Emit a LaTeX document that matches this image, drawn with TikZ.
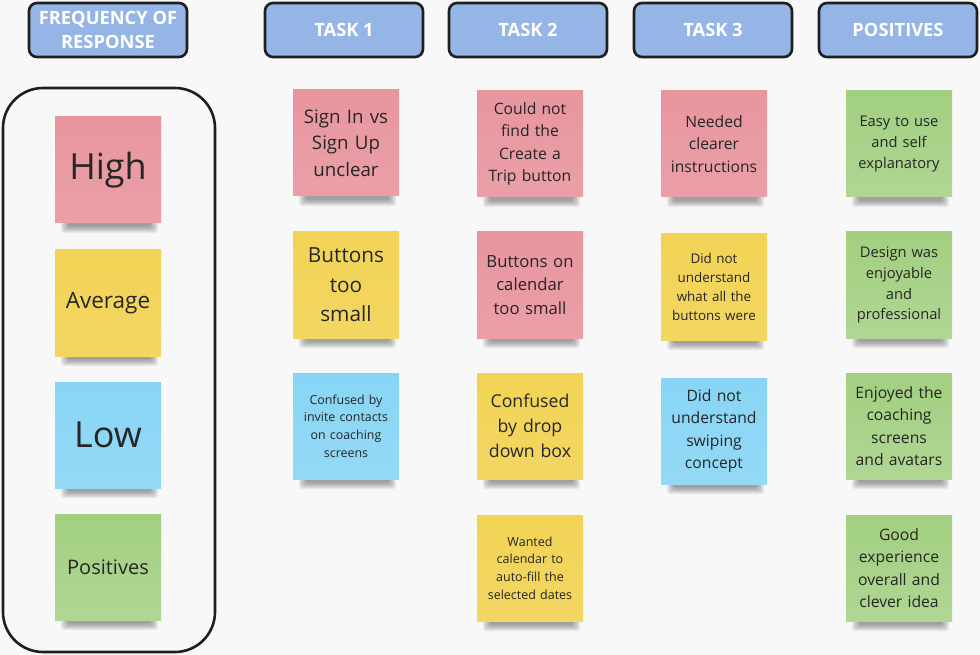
\documentclass[tikz,border=0pt]{standalone}
\usepackage{fontspec}
\setmainfont{Open Sans}
\usetikzlibrary{backgrounds}
\definecolor{bg}{HTML}{F8F8F8}
\definecolor{hdr}{HTML}{94B5E6}
\definecolor{pinkn}{HTML}{E8959E}
\definecolor{yelln}{HTML}{F2D355}
\definecolor{bluen}{HTML}{88D5F5}
\definecolor{greenn}{HTML}{A2CF80}
\definecolor{txt}{HTML}{262626}
\newcommand\fsz[1]{\fontsize{#1}{1.42\dimexpr#1pt\relax}\selectfont}
\begin{document}
\begin{tikzpicture}[x=1pt,y=-1pt,
  hdrbox/.style={draw=black!88, line width=2.6pt, rounded corners=8pt, fill=hdr,
    minimum width=158pt, minimum height=54pt, text=white, align=center, inner sep=0pt,
    font=\bfseries\fontsize{18.3}{25}\selectfont},
  note/.style={minimum width=106pt, minimum height=106pt, text width=100pt, align=center,
    inner sep=0pt, text=txt},
  pinknote/.style={note, top color=pinkn, bottom color=pinkn!90!white},
  yellnote/.style={note, top color=yelln, bottom color=yelln!92!white},
  bluenote/.style={note, top color=bluen, bottom color=bluen!90!white},
  greennote/.style={note, top color=greenn, bottom color=greenn!85!white},
]
\useasboundingbox (0,0) rectangle (980,655);

% headers
\node[hdrbox] (hfreq) at (108,30) {FREQUENCY OF\\[-1pt]RESPONSE};
\node[hdrbox] (ht1) at (344,30) {TASK 1};
\node[hdrbox] (ht2) at (528,30) {TASK 2};
\node[hdrbox] (ht3) at (713,30) {TASK 3};
\node[hdrbox] (hpos) at (898,30) {POSITIVES};

% legend frame
\draw[line width=2.6pt, black!88, rounded corners=40pt] (3,88) rectangle (215,652);
\coordinate (frame) at (109,370);

% legend notes
\node[pinknote, font=\fsz{36}] (lhigh) at (108,170) {High};
\node[yellnote, font=\fsz{22.5}] (lavg) at (108,303) {Average};
\node[bluenote, font=\fsz{36}] (llow) at (108,435) {Low};
\node[greennote, font=\fsz{20}] (lpos) at (108,567) {Positives};

% task 1
\node[pinknote, font=\fsz{18.7}] (a1) at (346,143) {Sign In vs\\Sign Up\\unclear};
\node[yellnote, font=\fsz{20.8}] (a2) at (346,285) {Buttons\\too\\small};
\node[bluenote, font=\fsz{12.4}] (a3) at (346,426) {Confused by\\invite contacts\\on coaching\\screens};

% task 2
\node[pinknote, font=\fsz{15.7}] (b1) at (530,144) {Could not\\find the\\Create a\\Trip button};
\node[pinknote, font=\fsz{16.7}] (b2) at (530,285) {Buttons on\\calendar\\too small};
\node[yellnote, font=\fsz{17.7}] (b3) at (530,426) {Confused\\by drop\\down box};
\node[yellnote, font=\fsz{12.5}] (b4) at (530,568) {Wanted\\calendar to\\auto-fill the\\selected dates};

% task 3
\node[pinknote, font=\fsz{15.7}] (c1) at (714,144) {Needed\\clearer\\instructions};
\node[yellnote, font=\fsz{13.4}] (c2) at (714,287) {Did not\\understand\\what all the\\buttons were};
\node[bluenote, font=\fsz{15.7}] (c3) at (714,431) {Did not\\understand\\swiping\\concept};

% positives
\node[greennote, font=\fsz{14.7}] (d1) at (899,144) {Easy to use\\and self\\explanatory};
\node[greennote, font=\fsz{14.7}] (d2) at (899,285) {Design was\\enjoyable\\and\\professional};
\node[greennote, font=\fsz{15.7}] (d3) at (899,426) {Enjoyed the\\coaching\\screens\\and avatars};
\node[greennote, font=\fsz{15.7}] (d4) at (899,568) {Good\\experience\\overall and\\clever idea};

\begin{scope}[on background layer]
  \fill[bg] (0,0) rectangle (980,655);
  \foreach \n in {lhigh,lavg,llow,lpos,a1,a2,a3,b1,b2,b3,b4,c1,c2,c3,d1,d2,d3,d4}{
    \foreach \i in {0,...,6}{
      \fill[black, opacity=0.06, rounded corners=3pt]
        ([xshift={6pt+1.2pt*\i}, yshift=2pt]\n.south west) rectangle
        ([xshift={-3pt-1.2pt*\i}, yshift={-10pt+1.1pt*\i}]\n.south east);
    }
  }
\end{scope}
\end{tikzpicture}
\end{document}
